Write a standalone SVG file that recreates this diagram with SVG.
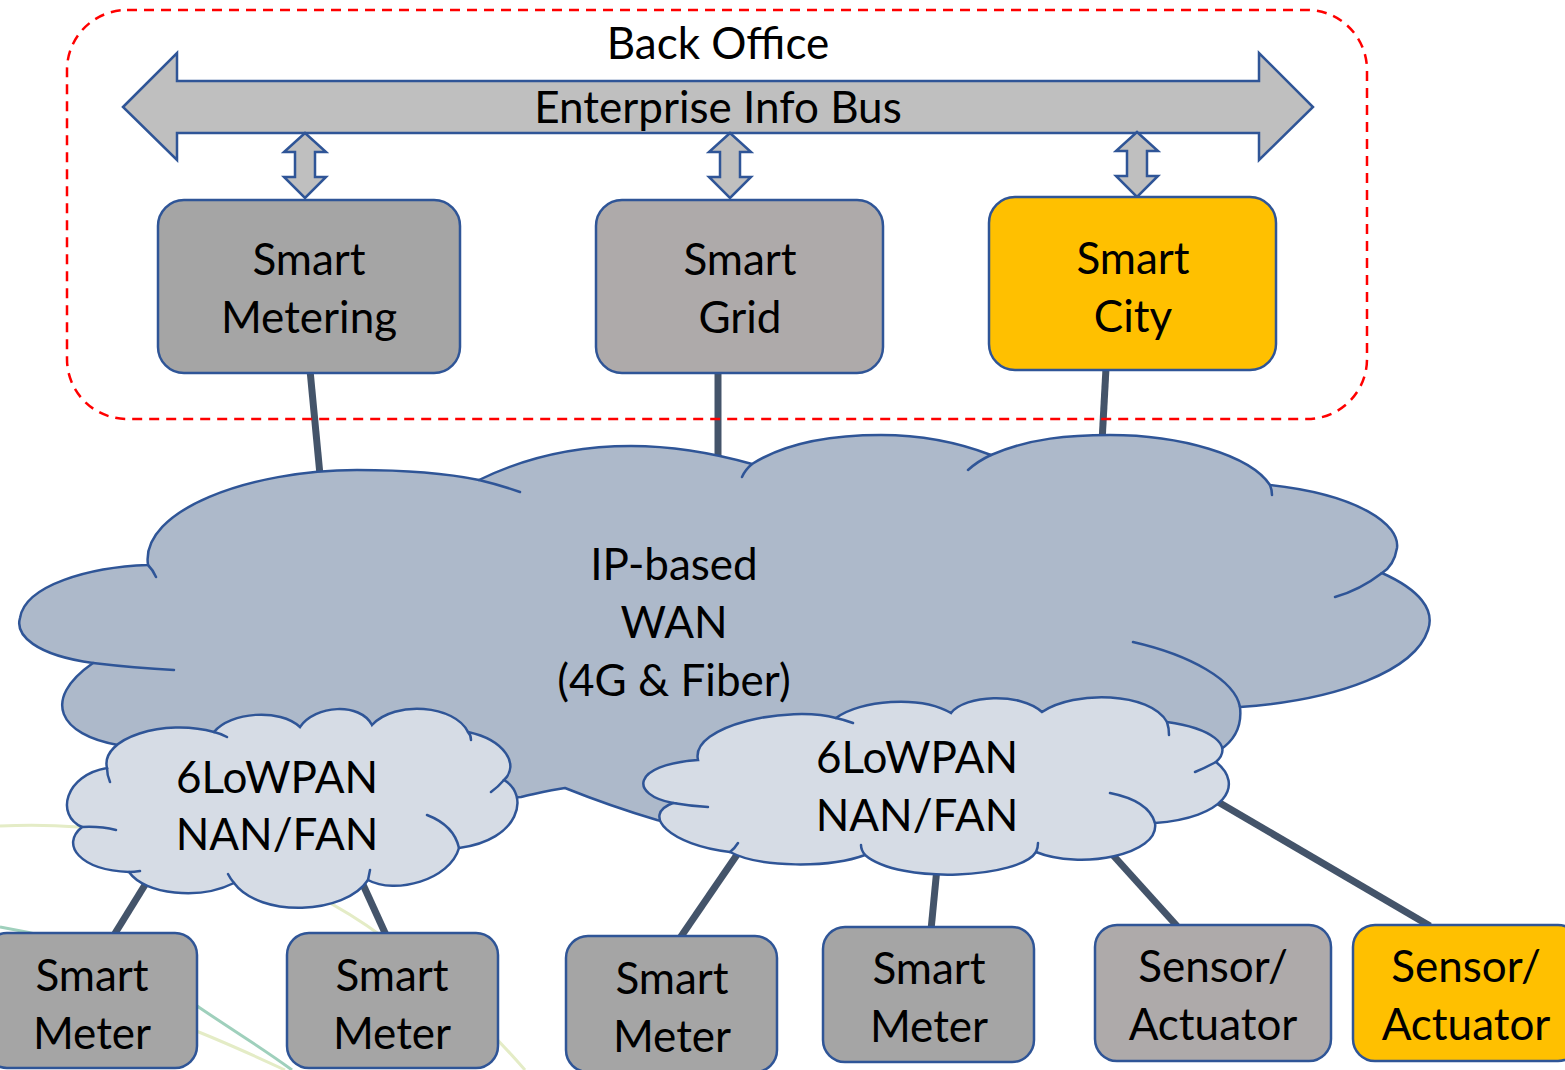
<svg xmlns="http://www.w3.org/2000/svg" width="1565" height="1070" viewBox="0 0 1565 1070">
<style>
.t{font-family:Lato,"Liberation Sans",sans-serif;font-size:44px;fill:#000;text-anchor:middle}
.box{stroke:#2F5597;stroke-width:2.5}
.cl{stroke:#2F5597;stroke-width:2.5}
.hk{fill:none;stroke:#2F5597;stroke-width:2.5;stroke-linecap:round}
.arr{fill:#BFBFBF;stroke:#2F5597;stroke-width:2.5;stroke-linejoin:miter}
.con{stroke:#44546A;stroke-width:7;fill:none}
.bg{fill:none;stroke-width:3}
</style>
<rect width="1565" height="1070" fill="#fff"/>
<g id="background">
<path class="bg" stroke="#E4ECC6" d="M0,826 C150,818 300,870 400,950 C450,990 490,1030 525,1070"/>
<path class="bg" stroke="#E4ECC6" d="M60,990 C140,1005 210,1035 285,1070"/>
<path class="bg" stroke="#9FD0BC" d="M0,927 C80,940 150,970 200,1008 C240,1035 265,1050 292,1070"/>
</g>
<g id="connectors">
<line class="con" x1="310" y1="370" x2="320" y2="475"/>
<line class="con" x1="718" y1="370" x2="718" y2="460"/>
<line class="con" x1="1106" y1="368" x2="1102" y2="442"/>
<line class="con" x1="148" y1="880" x2="114" y2="935"/>
<line class="con" x1="360" y1="878" x2="386" y2="935"/>
<line class="con" x1="745" y1="843" x2="680" y2="938"/>
<line class="con" x1="937" y1="868" x2="931" y2="930"/>
<line class="con" x1="1102" y1="843" x2="1177" y2="926"/>
<line class="con" x1="1213" y1="799" x2="1430" y2="926"/>
</g>
<g id="back-office">
<rect x="67" y="10" width="1300" height="409" rx="60" ry="60" fill="none" stroke="#FF0000" stroke-width="2.5" stroke-dasharray="10,7"/>
<text class="t" x="718" y="59">Back Office</text>
</g>
<g id="enterprise-bus">
<polygon class="arr" points="123,107 177,53 177,81 1259,81 1259,53 1313,107 1259,160 1259,133 177,133 177,160"/>
<text class="t" x="718" y="123">Enterprise Info Bus</text>
</g>
<g id="bus-links">
<path class="arr" d="M305,133 L326,152 L315,152 L315,177 L326,177 L305,198 L284,177 L295,177 L295,152 L284,152 Z"/>
<path class="arr" d="M730,133 L751,152 L740,152 L740,177 L751,177 L730,198 L709,177 L720,177 L720,152 L709,152 Z"/>
<path class="arr" d="M1137,132 L1158,151 L1147,151 L1147,176 L1158,176 L1137,197 L1116,176 L1127,176 L1127,151 L1116,151 Z"/>
</g>
<g id="smart-metering">
<rect class="box" x="158" y="200" width="302" height="173" rx="26" fill="#A5A5A5"/>
<text class="t" x="309" y="275">Smart</text>
<text class="t" x="309" y="333">Metering</text>
</g>
<g id="smart-grid">
<rect class="box" x="596" y="200" width="287" height="173" rx="26" fill="#AEAAAA"/>
<text class="t" x="740" y="275">Smart</text>
<text class="t" x="740" y="333">Grid</text>
</g>
<g id="smart-city">
<rect class="box" x="989" y="197" width="287" height="173" rx="26" fill="#FFC000"/>
<text class="t" x="1133" y="274">Smart</text>
<text class="t" x="1133" y="332">City</text>
</g>
<g id="wan-cloud">
<path class="cl" fill="#ADB9CA" d="M148,565 C140,510 250,470 357,470 C410,470 450,474 479,480 C530,455 580,446 631,446 C680,446 720,455 752,464 C790,440 840,435 881,435 C930,435 965,445 991,455 C1030,438 1070,435 1110,435 C1180,435 1250,455 1270,485 C1360,495 1400,525 1397,548 C1395,560 1390,568 1382,573 C1420,590 1435,610 1428,630 C1415,670 1340,700 1240,707 C1242,725 1235,740 1220,750 L900,780 L680,826 L657,820 C630,812 590,798 565,788 C550,790 535,794 521,797 L480,800 L150,760 L118,745 C60,735 40,700 93,663 C35,655 15,635 20,618 C25,585 90,567 148,565 Z"/>
<path class="hk" d="M148,565 Q153,570 156,577 M93,663 Q135,668 174,670 M479,480 Q500,485 520,492 M752,464 Q745,470 742,477 M991,455 Q978,461 968,470 M1270,485 Q1272,490 1272,495 M1382,573 Q1360,590 1335,597 M1133,642 C1190,655 1235,680 1240,707"/>
<text class="t" x="674" y="580">IP-based</text>
<text class="t" x="674" y="638">WAN</text>
<text class="t" x="674" y="696">(4G &amp; Fiber)</text>
</g>
<g id="nan-left">
<path class="cl" fill="#D6DCE5" d="M107,768 C100,738 165,718 214,732 C230,712 280,708 300,727 C315,705 360,702 372,725 C395,700 455,705 468,732 C505,740 520,765 504,780 C530,795 520,840 459,848 C450,880 395,895 368,880 C345,915 260,918 234,883 C200,900 145,895 129,872 C80,870 60,845 82,827 C55,815 65,775 107,768 Z"/>
<path class="hk" d="M107,768 Q107,775 110,782 M214,732 Q222,734 227,737 M468,732 Q471,735 471,740 M504,780 Q498,787 491,792 M459,848 C455,830 440,820 427,815 M368,880 Q369,875 370,870 M234,883 Q230,878 228,874 M129,872 Q134,872 140,871 M82,827 Q100,826 116,830"/>
<text class="t" x="277" y="793">6LoWPAN</text>
<text class="t" x="277" y="850">NAN/FAN</text>
</g>
<g id="nan-right">
<path class="cl" fill="#D6DCE5" d="M698,760 C690,725 790,705 836,718 C860,700 920,695 951,713 C965,695 1020,692 1042,712 C1075,690 1150,692 1167,722 C1210,728 1235,745 1216,762 C1245,785 1225,818 1155,823 C1160,855 1080,870 1036,852 C1020,878 900,885 865,855 C830,868 760,868 730,852 C670,845 640,815 673,803 C630,795 630,765 698,760 Z"/>
<path class="hk" d="M673,803 Q690,806 708,807 M730,852 Q735,848 738,843 M865,855 Q861,850 861,845 M1036,852 Q1038,848 1038,843 M1155,823 C1150,805 1130,797 1110,793 M1216,762 Q1205,768 1195,772 M1167,722 Q1169,728 1169,735 M836,718 Q845,720 853,723"/>
<text class="t" x="917" y="773">6LoWPAN</text>
<text class="t" x="917" y="831">NAN/FAN</text>
</g>
<g id="meter-1">
<rect class="box" x="-15" y="933" width="212" height="135" rx="22" fill="#A5A5A5"/>
<text class="t" x="92" y="991">Smart</text>
<text class="t" x="92" y="1049">Meter</text>
</g>
<g id="meter-2">
<rect class="box" x="287" y="933" width="211" height="135" rx="22" fill="#A5A5A5"/>
<text class="t" x="392" y="991">Smart</text>
<text class="t" x="392" y="1049">Meter</text>
</g>
<g id="meter-3">
<rect class="box" x="566" y="936" width="211" height="136" rx="22" fill="#A5A5A5"/>
<text class="t" x="672" y="994">Smart</text>
<text class="t" x="672" y="1052">Meter</text>
</g>
<g id="meter-4">
<rect class="box" x="823" y="927" width="211" height="135" rx="22" fill="#A5A5A5"/>
<text class="t" x="929" y="984">Smart</text>
<text class="t" x="929" y="1042">Meter</text>
</g>
<g id="sensor-1">
<rect class="box" x="1095" y="925" width="236" height="136" rx="22" fill="#AEAAAA"/>
<text class="t" x="1213" y="982">Sensor/</text>
<text class="t" x="1213" y="1040">Actuator</text>
</g>
<g id="sensor-2">
<rect class="box" x="1353" y="925" width="227" height="136" rx="22" fill="#FFC000"/>
<text class="t" x="1466" y="982">Sensor/</text>
<text class="t" x="1466" y="1040">Actuator</text>
</g>
</svg>
